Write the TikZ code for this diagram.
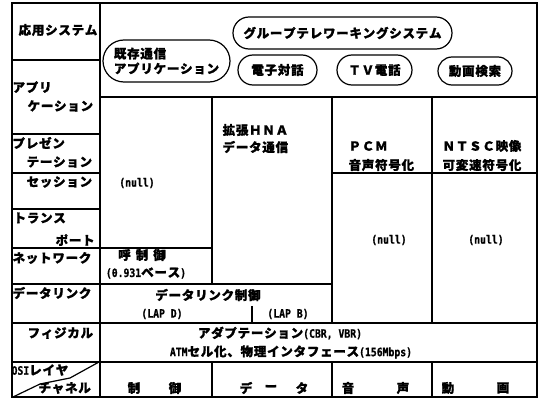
\documentclass[tikz,border=0pt]{standalone}
\usepackage{fontspec}
\setmainfont{Noto Sans CJK JP}[LetterSpace=6,FakeBold=1.2,Kerning=Off]
\newfontfamily\monof{DejaVu Sans Mono}[FakeStretch=0.85,FakeBold=1]
\usetikzlibrary{shapes.misc}
\newcommand\jpf{\bfseries\fontsize{12.5}{15}\selectfont}
\newcommand\lt[1]{{\monof\bfseries\fontsize{11.5}{13}\selectfont #1}}
\begin{document}
\begin{tikzpicture}[x=1pt,y=-1pt,line width=1.2pt,
  lbl/.style={inner sep=0pt,font=\jpf},
  lblw/.style={lbl,anchor=west},
  oval/.style={draw,rounded rectangle,inner sep=0pt,font=\jpf,align=left}]
\useasboundingbox (0,0) rectangle (542,401);
% frame and grid
\draw[line width=1.6pt] (12,3) rectangle (537,397);
\draw (100,3) -- (100,397);
\foreach \y in {60,134,173,209} \draw (12,\y) -- (100,\y);
\draw (12,248) -- (212,248);
\draw (12,284) -- (332,284);
\draw (100,97) -- (537,97);
\draw (212,97) -- (212,284);
\draw (332,97) -- (332,323);
\draw (432,97) -- (432,323);
\draw (332,173) -- (537,173);
\draw (12,323) -- (537,323);
\draw (12,362) -- (537,362);
\foreach \x in {212,332,432} \draw (\x,362) -- (\x,397);
\draw (252,306) -- (252,323);
\draw (13,397) -- (40,384) -- (70,378) -- (99,362);
% left column
\node[lbl] (l1) at (58,30) {応用システム};
\node[lblw] (l2a) at (12,87) {アプリ};
\node[lblw] (l2b) at (27,106) {ケーション};
\node[lblw] (l3a) at (12,143) {プレゼン};
\node[lblw] (l3b) at (26,162) {テーション};
\node[lblw] (l4) at (26,182) {セッション};
\node[lblw] (l5a) at (13,218) {トランス};
\node[lblw] (l5b) at (55,240) {ポート};
\node[lblw] (l6) at (12,258) {ネットワーク};
\node[lblw] (l7) at (12,293) {データリンク};
\node[lblw] (l8) at (27,333) {フィジカル};
\node[lblw] (l9a) at (11,370) {\lt{OSI}レイヤ};
\node[lblw] (l9b) at (38,388) {チャネル};
% application ovals
\node[oval,minimum width=127pt,minimum height=42pt] (o1) at (166.5,61) {既存通信\\アプリケーション};
\node[oval,minimum width=219pt,minimum height=32pt] (o2) at (342.5,33) {グループテレワーキングシステム};
\node[oval,minimum width=79pt,minimum height=30pt] (o3) at (277.5,70) {電子対話};
\node[oval,minimum width=75pt,minimum height=30pt] (o4) at (374.5,70) {ＴＶ電話};
\node[oval,minimum width=74pt,minimum height=28pt] (o5) at (475,71) {動画検索};
% middle
\node[lbl] (n1) at (137,183) {\lt{(null)}};
\node[lblw] (h1) at (222,130) {拡張ＨＮＡ};
\node[lblw] (h2) at (222,147) {データ通信};
\node[lblw] (p1) at (348,146) {ＰＣＭ};
\node[lblw] (p2) at (348,165) {音声符号化};
\node[lblw] (v1) at (442,146) {ＮＴＳＣ映像};
\node[lblw] (v2) at (442,165) {可変速符号化};
\node[lbl] (n3) at (389,240) {\lt{(null)}};
\node[lbl] (n4) at (486,240) {\lt{(null)}};
\node[lbl] (c1) at (142,255) {呼\hspace{5pt}制\hspace{5pt}御};
\node[lbl] (c2) at (146,273) {\lt{(0.931}ベース\lt{)}};
\node[lbl] (d1) at (208,295) {データリンク制御};
\node[lbl] (d2) at (162,314) {\lt{(LAP D)}};
\node[lbl] (d3) at (288,314) {\lt{(LAP B)}};
\node[lbl] (ph1) at (280,333) {アダプテーション\lt{(CBR, VBR)}};
\node[lbl] (ph2) at (291,352) {\lt{ATM}セル化、物理インタフェース\lt{(156Mbps)}};
% bottom row
\node[lbl] (b1) at (134,388) {制};
\node[lbl] (b2) at (175,388) {御};
\node[lbl] (b3) at (246,388) {デ};
\node[lbl] (b4) at (271,388) {ー};
\node[lbl] (b5) at (302,388) {タ};
\node[lbl] (b6) at (348,388) {音};
\node[lbl] (b7) at (403,388) {声};
\node[lbl] (b8) at (448,388) {動};
\node[lbl] (b9) at (503,388) {画};
\end{tikzpicture}
\end{document}
